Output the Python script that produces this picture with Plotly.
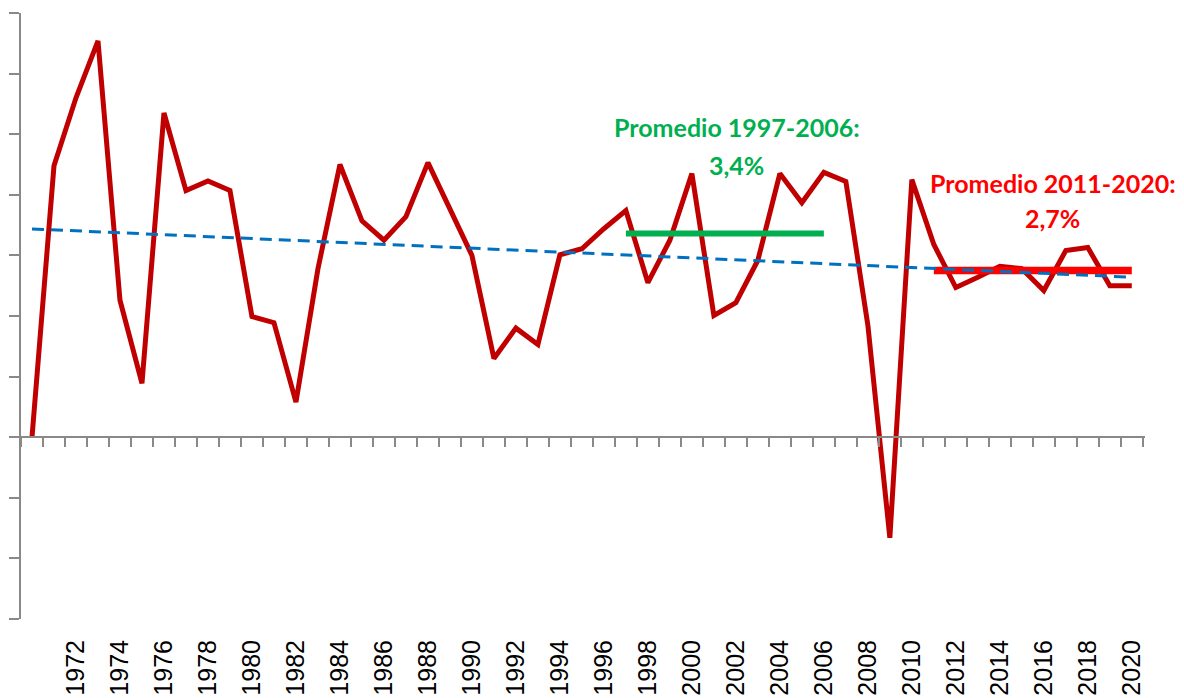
import numpy as np
import plotly.graph_objects as go

# crecimiento anual (%)
years = list(range(1970, 2021))
growth = [0.0, 4.48, 5.6, 6.54, 2.26, 0.89, 5.35, 4.07, 4.23, 4.07,
          1.99, 1.89, 0.58, 2.78, 4.5, 3.57, 3.25, 3.64, 4.53, 3.77,
          3.0, 1.3, 1.8, 1.53, 3.01, 3.11, 3.44, 3.74, 2.55, 3.25,
          4.35, 2.01, 2.22, 2.92, 4.35, 3.87, 4.37, 4.22, 1.85, -1.66,
          4.25, 3.18, 2.47, 2.64, 2.82, 2.78, 2.42, 3.08, 3.13, 2.5,
          2.5]

period_a = (1997, 2006)
period_b = (2011, 2020)
label_a = ["Promedio 1997-2006:", "3,4%"]
label_b = ["Promedio 2011-2020:", "2,7%"]
tick_years = list(range(1972, 2021, 2))

yrs = np.array(years)
g = np.array(growth)


def period_mean(p):
    m = (yrs >= p[0]) & (yrs <= p[1])
    return g[m].mean()


# tendencia lineal (como la linea de tendencia de Excel)
coef = np.polyfit(yrs, g, 1)
trend = np.polyval(coef, yrs)

AXIS = '#898989'
fig = go.Figure()

fig.add_trace(go.Scatter(x=years, y=growth, mode='lines',
                         line=dict(color='#C00000', width=5), showlegend=False))

mean_a = period_mean(period_a)
fig.add_trace(go.Scatter(x=list(period_a), y=[mean_a, mean_a], mode='lines',
                         line=dict(color='#00B050', width=6), showlegend=False))
mean_b = period_mean(period_b)
fig.add_trace(go.Scatter(x=list(period_b), y=[mean_b, mean_b], mode='lines',
                         line=dict(color='#FF0000', width=7.5), showlegend=False))

fig.add_trace(go.Scatter(x=years, y=trend, mode='lines',
                         line=dict(color='#0070C0', width=3, dash='12px,7px'), showlegend=False))

ann_font = dict(family='Lato', size=25)
for txt, yv in zip(label_a, [5.12, 4.49]):
    fig.add_annotation(x=2002.05, y=yv, text='<b>%s</b>' % txt, showarrow=False,
                       font=dict(color='#00B050', **ann_font))
for txt, yv in zip(label_b, [4.19, 3.61]):
    fig.add_annotation(x=2016.4, y=yv, text='<b>%s</b>' % txt, showarrow=False,
                       font=dict(color='#FF0000', **ann_font))

xr = [1969.5, 2020.6]
# la pagina tiene 8px de margen en el body
fig.update_layout(
    width=1184, height=698,
    margin=dict(l=13, r=47, t=5, b=87),
    plot_bgcolor='white', paper_bgcolor='white',
    xaxis=dict(range=xr, tickmode='array', tickvals=tick_years,
               ticktext=[str(t) for t in tick_years], tickangle=-90,
               ticks='outside', ticklen=10, tickcolor='rgba(0,0,0,0)',
               tickfont=dict(family='Liberation Sans', size=25, color='black'),
               showgrid=False, zeroline=False, showline=False, automargin=False),
    xaxis2=dict(range=xr, overlaying='x', anchor='free', position=0.3, side='bottom',
                showticklabels=False, showgrid=False, zeroline=False, automargin=False,
                showline=True, linecolor=AXIS, linewidth=2,
                ticks='', minor=dict(ticks='outside', tick0=1969.5, dtick=1,
                                     ticklen=9, tickwidth=2, tickcolor=AXIS, showgrid=False)),
    yaxis=dict(range=[-3, 7], tickmode='linear', tick0=-3, dtick=1,
               showticklabels=False, ticks='outside', ticklen=10, tickwidth=2,
               tickcolor=AXIS, showline=True, linecolor=AXIS, linewidth=2,
               showgrid=False, zeroline=False, automargin=False),
)
# eje auxiliar invisible para que xaxis2 se dibuje
fig.add_trace(go.Scatter(x=[None], y=[None], xaxis='x2', showlegend=False, hoverinfo='skip'))

fig.write_html("out.html")
